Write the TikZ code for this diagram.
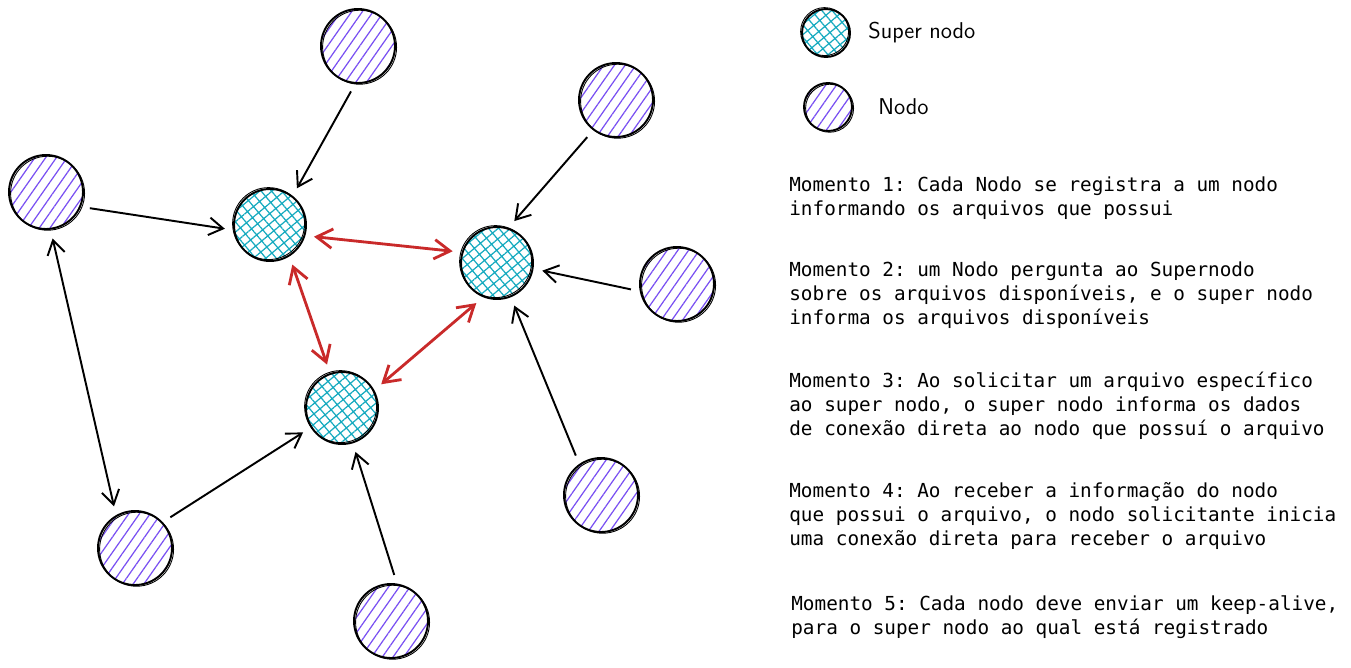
\documentclass[tikz,border=0pt]{standalone}
\usepackage{fontspec}
\setmonofont{DejaVu Sans Mono}
\usetikzlibrary{arrows.meta,patterns.meta}
\definecolor{roxo}{HTML}{7950F2}
\definecolor{ciano}{HTML}{15AABF}
\definecolor{vermelho}{HTML}{C92A2A}

\begin{document}
\begin{tikzpicture}[x=0.02cm, y=-0.02cm,
      nodo/.style={circle, draw, line width=1.1pt, minimum size=1.48cm, inner sep=0pt,
      pattern={Lines[angle=55,distance=5pt,line width=0.7pt]}, pattern color=roxo,
      postaction={draw, line width=0.5pt, transform canvas={shift={(0.9pt,-0.7pt)}}}},
      super/.style={circle, draw, line width=1.1pt, minimum size=1.44cm, inner sep=0pt,
      pattern={Hatch[angle=40,distance=4.5pt,line width=0.7pt]}, pattern color=ciano,
      postaction={draw, line width=0.5pt, transform canvas={shift={(-0.8pt,0.8pt)}}}},
      seta/.style={line width=1.1pt, -{Straight Barb[length=8pt,width=10pt]},
      shorten >=0.18cm, shorten <=0.18cm},
      setadupla/.style={line width=1.6pt, vermelho,
      {Straight Barb[length=9pt,width=11pt]}-{Straight Barb[length=9pt,width=11pt]},
      shorten >=0.18cm, shorten <=0.18cm},
      texto/.style={font=\ttfamily\fontsize{11}{13.7}\selectfont, align=left,
      anchor=north west, inner sep=0pt},
      legenda/.style={font=\sffamily\fontsize{13}{15}\selectfont, anchor=west, inner sep=0pt} ]
  \useasboundingbox (0,0) rectangle (1351,667);
  % super nodos
  \node[super] (s1) at (270,225) {};
  \node[super] (s2) at (497,263) {};
  \node[super] (s3) at (342,408) {};
  % nodos
  \node[nodo] (topo) at (358,46) {};
  \node[nodo] (esq) at (46,192) {};
  \node[nodo] (dirtopo) at (616,100) {};
  \node[nodo] (dir) at (677,284) {};
  \node[nodo] (dirbaixo) at (601,495) {};
  \node[nodo] (esqbaixo) at (135,548) {};
  \node[nodo] (baixo) at (391,621) {};
  % conexoes
  \draw[seta] (topo.266) -- (s1.52);
  \draw[seta] (esq.337) -- (s1.188);
  \draw[seta, {Straight Barb[length=8pt,width=10pt]}-{Straight Barb[length=8pt,width=10pt]}] (esq.277) -- (esqbaixo.120);
  \draw[seta] (esqbaixo.43) -- (s3.212);
  \draw[seta] (baixo.81) -- (s3.287);
  \draw[seta] (dirtopo.233) -- (s2.72);
  \draw[seta] (dir.191) -- (s2.351);
  \draw[seta] (dirbaixo.125) -- (s2.292);
  \draw[setadupla] (s1.343) -- (s2.163);
  \draw[setadupla] (s1.302) -- (s3.109);
  \draw[setadupla] (s3.29) -- (s2.248);
  % legenda
  \node[super, minimum size=0.96cm] (lsuper) at (826,33) {};
  \node[legenda] (tsuper) at (868,33) {Super nodo};
  \node[nodo, minimum size=0.96cm] (lnodo) at (828,107) {};
  \node[legenda] (tnodo) at (878,107) {Nodo};
  % momentos
  \node[texto] (m1) at (789,176) {Momento 1: Cada Nodo se registra a um nodo\\informando os arquivos que possui};
  \node[texto] (m2) at (789,261) {Momento 2: um Nodo pergunta ao Supernodo\\sobre os arquivos disponíveis, e o super nodo\\informa os arquivos disponíveis};
  \node[texto] (m3) at (789,372) {Momento 3: Ao solicitar um arquivo específico\\ao super nodo, o super nodo informa os dados\\de conexão direta ao nodo que possuí o arquivo};
  \node[texto] (m4) at (789,482) {Momento 4: Ao receber a informação do nodo\\que possui o arquivo, o nodo solicitante inicia\\uma conexão direta para receber o arquivo};
  \node[texto] (m5) at (791,595) {Momento 5: Cada nodo deve enviar um keep-alive,\\para o super nodo ao qual está registrado};
\end{tikzpicture}
\end{document}
